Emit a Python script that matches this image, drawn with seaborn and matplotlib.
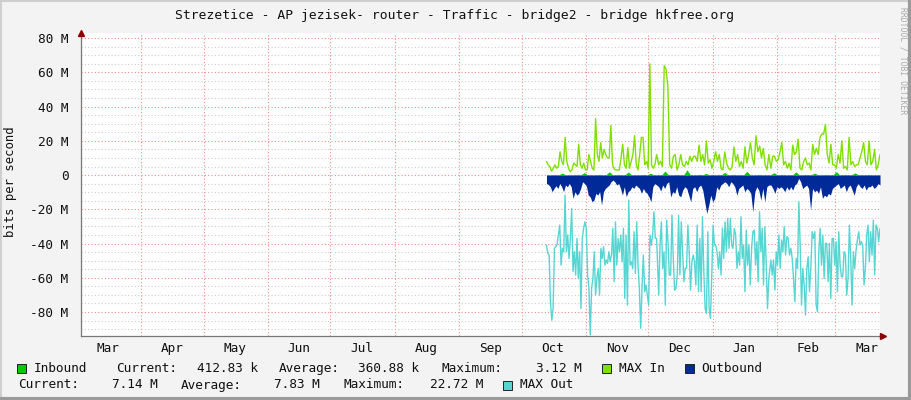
import matplotlib
matplotlib.use('Agg')
import matplotlib.pyplot as plt
import matplotlib.dates as mdates
from matplotlib.ticker import MultipleLocator, NullFormatter, FuncFormatter
from matplotlib.patches import Rectangle
import pandas as pd
import seaborn as sns

# RRDtool traffic graph, values in Mbit/s
title = 'Strezetice - AP jezisek- router - Traffic - bridge2 - bridge hkfree.org'
view_start, view_end = '2014-03-03', '2015-03-22 12:00'
# the readings were taken in three time blocks
blocks = [('2014-10-13', '2014-12-05'), ('2014-12-06', '2015-01-28'), ('2015-01-29', '2015-03-22 12:00')]

max_in = [
    [8, 6, 5, 2.3, 4, 6, 4, 5, 13.6, 8, 6, 22, 8, 4, 2, 3, 7, 6, 5, 18, 6, 4, 7, 3, 3, 12, 8, 4, 3, 33,
     12, 8, 19, 10, 15, 12, 10, 10, 29, 6, 3.5, 3, 3, 3, 10, 18, 6, 4, 16, 4, 8, 12, 23, 6, 3, 12, 22, 22,
     6, 8, 4, 65, 6, 4, 6, 12],
    [6, 8, 5, 64, 62, 52, 6, 4, 11, 12, 3, 6, 12, 6, 5, 8, 6, 11, 8, 11, 11, 8, 17.5, 8, 12, 6, 20, 7, 9,
     4, 8, 13.6, 8, 12, 4, 3, 13.6, 7, 4, 3, 5, 16.5, 8, 12, 5, 8, 4, 16.5, 7, 12, 19, 10, 6, 23, 13.6, 17,
     10, 15.6, 6, 3, 12],
    [4, 11, 11, 8, 9, 13.6, 19, 6, 8, 4, 7, 3, 17.5, 12, 13.6, 21, 4, 3, 8, 10, 6, 7, 3, 18, 12, 15.6, 12,
     22, 24, 24, 29.6, 12, 7, 18, 6, 6, 4, 12, 7, 20, 4, 5, 3, 22, 6, 8, 5, 6, 6, 10, 13.6, 19, 8, 6, 20,
     6, 8, 15, 3, 6, 12],
]

outbound = [
    [-4.9, -5.5, -6.8, -9.7, -7.8, -6.2, -7.8, -4.9, -6.8, -9.7, -5.8, -6.8, -4.9, -6.8, -13.6, -9.7,
     -11.7, -10.7, -7.8, -3.9, -4.9, -6.2, -11.7, -12.7, -15.6, -14.6, -10.7, -11.7, -9.7, -17.5, -9.7,
     -7.8, -6.8, -5.8, -3.9, -2.9, -3.9, -5.8, -4.9, -7.8, -11.7, -6.8, -12.7, -9.7, -8.8, -6.8, -7.8,
     -5.8, -6.8, -7.8, -10.7, -7.8, -9.7, -10.7, -12.7, -15.6, -6.8, -4.9, -5.8],
    [-6.8, -9.3, -5.8, -7.8, -4.9, -3.9, -12.7, -9.7, -10.7, -6.8, -11.7, -12.7, -8.8, -6.8, -7.8,
     -11.7, -15.6, -7.8, -6.8, -9.7, -6.8, -5.8, -8.8, -15.6, -22.4, -17.5, -11.7, -15.6, -13.6, -6.8,
     -8.8, -5.8, -4.9, -3.9, -4.9, -6.8, -3.9, -4.9, -6.8, -11.7, -7.8, -6.8, -5.8, -9.7, -7.8, -8.8,
     -10.7, -21.4, -9.7, -6.8, -8.8, -14.6, -7.8, -15.6, -6.8, -5.8],
    [-5.8, -7.8, -10.7, -6.8, -7.8, -6.8, -7.8, -9.7, -6.8, -8.8, -6.8, -8.8, -5.8, -4.9, -1.9, -3.9,
     -7.8, -6.8, -5.8, -7.8, -20.4, -7.8, -9.7, -8.8, -10.7, -6.8, -13.6, -11.7, -12.7, -10.7, -11.7,
     -7.8, -6.8, -5.8, -4.9, -7.8, -6.8, -5.8, -9.7, -6.8, -5.8, -8.8, -11.7, -6.8, -4.9, -6.8, -7.8,
     -5.8, -8.8, -6.8, -6.8, -5.8, -7.8, -6.8, -4.9, -5.8],
]

max_out = [
    [-40.9, -45.7, -46.7, -74, -84.7, -77.9, -42.8, -41.8, -40.5, -35, -29.2, -52.6, -42.8, -44.8, -11.7,
     -44.8, -35, -48.7, -37, -19.5, -56.4, -44.8, -58.4, -37, -60.3, -44.8, -77.9, -37, -31.1, -27.3,
     -31.1, -58.4, -66.2, -93.4, -66.2, -60.3, -44.8, -70.1, -60.3, -54.5, -70.1, -42.8, -48.7, -41.8,
     -52.6, -49.6, -51.6, -44.8, -50.6, -46.7, -31.1, -62.3, -27.3, -52.6, -37, -44.8, -35, -50.6, -31.1,
     -72, -35, -75.9, -14.6, -52.6, -50.6, -54.5, -33.1, -57.4, -27.3, -52.6, -66.2, -89.5, -66.2, -46.7,
     -68.1, -64.2, -70.1, -75.9, -35, -40.9, -35, -21.4, -37, -37],
    [-70.1, -40.9, -27.3, -54.5, -44.8, -75.9, -26.3, -38.9, -58.4, -58.4, -23.4, -48.7, -67.2, -66.2,
     -58.4, -23.4, -58.4, -27.3, -44.8, -62.3, -54.5, -54.5, -29.2, -44.8, -67.2, -50.6, -46.7, -50.6,
     -64.2, -29.2, -68.1, -37, -68.1, -24.3, -56.4, -77.9, -80.8, -33.1, -77.9, -83.7, -58.4, -29.2,
     -40.9, -40.9, -44.8, -54.5, -44.8, -58.4, -31.1, -48.7, -27.3, -44.8, -25.3, -42.8, -25.3, -40.9,
     -42.8, -31.1, -35, -54.5, -44.8, -52.6, -24.3, -48.7, -40.9, -68.1, -32.1, -52.6, -40.9, -64.2,
     -42.8, -33.1, -32.1, -52.6, -38.9, -62.3, -21.4, -44.8, -31.1, -64.2, -30.2, -50.6, -77.9, -60.3],
    [-49.6, -58.4, -49.6, -67.2, -44.8, -52.6, -35, -54.5, -37.9, -44.8, -30.2, -46.7, -36, -37, -46.7,
     -42.8, -48.7, -60.3, -74, -48.7, -54.5, -15.6, -40.9, -75.9, -54.5, -64.2, -81.8, -54.5, -47.7,
     -68.1, -54.5, -33.1, -37, -33.1, -75.9, -79.8, -44.8, -31.1, -52.6, -35, -60.3, -39.9, -39.9, -62.3,
     -39.9, -72, -37, -37, -52.6, -38.9, -68.1, -33.1, -52.6, -59.3, -59.3, -44.8, -46.7, -70.1, -60.3,
     -29.2, -48.7, -75.9, -44.8, -54.5, -43.8, -37.9, -33.1, -40.9, -38.9, -40.9, -64.2, -54.5, -35,
     -29.2, -50.6, -33.1, -46.7, -26.3, -58.4, -29.2, -31.1, -38.9, -31.1],
]

inbound = [
    [0.3, 0.2, 0.3, 0.3, 0.2, 1.2, 0.2, 0.3, 0.2, 0.3, 0.4, 0.2, 1.5, 0.2, 0.3, 0.2, 0.3, 0.4, 0.2, 0.3,
     2.0, 0.2, 0.3, 0.4, 0.2, 0.3, 1.8, 0.2, 0.3, 0.2, 0.3, 0.4, 0.2, 1.1, 0.3, 0.2],
    [0.3, 0.2, 2.4, 0.3, 0.2, 0.3, 0.4, 0.2, 0.3, 3.1, 0.3, 0.2, 0.3, 0.4, 0.2, 1.0, 0.2, 0.3, 0.2, 0.4,
     0.3, 1.6, 0.2, 0.3, 0.4, 0.2, 0.3, 0.2, 2.2, 0.3, 0.2, 0.3, 0.4, 0.2, 0.3, 0.2],
    [0.3, 1.4, 0.2, 0.3, 0.4, 0.2, 0.3, 0.2, 1.9, 0.3, 0.2, 0.4, 0.3, 0.2, 1.2, 0.3, 0.2, 0.3, 0.4, 0.2,
     0.3, 2.0, 0.2, 0.3, 0.4, 0.2, 0.3, 1.3, 0.2, 0.3, 0.2, 0.4, 0.3, 0.2, 0.3, 0.3],
]

legend_rows = [
    [('sq', 17, '#00CC00'), ('Inbound', 34), ('Current:', 116), ('412.83 k', 197), ('Average:', 279),
     ('360.88 k', 358), ('Maximum:', 441), ('3.12 M', 536), ('sq', 602, '#7FE000'), ('MAX In', 619),
     ('sq', 685, '#002A97'), ('Outbound', 701)],
    [('Current:', 18), ('7.14 M', 112), ('Average:', 181), ('7.83 M', 274), ('Maximum:', 343),
     ('22.72 M', 430), ('sq', 503, '#55D6D3'), ('MAX Out', 520)],
]


def frame(parts):
    out = []
    for (t0, t1), vals in zip(blocks, parts):
        out.append(pd.DataFrame({'time': pd.date_range(t0, t1, periods=len(vals)), 'value': vals}))
    return pd.concat(out, ignore_index=True)


df_in = frame(inbound)
df_max_in = frame(max_in)
df_out = frame(outbound)
df_max_out = frame(max_out)

sns.set_style('white')
plt.rcParams['font.family'] = ['DejaVu Sans Mono']

W, H = 911, 400
fig = plt.figure(figsize=(W / 100, H / 100), dpi=100, facecolor='#F3F3F3')
ax = fig.add_axes([81 / W, 1 - 336 / H, (880 - 81) / W, (336 - 33) / H])
ax.set_facecolor('white')

# grid first
ax.set_axisbelow(True)
ax.yaxis.set_major_locator(MultipleLocator(20))
ax.yaxis.set_minor_locator(MultipleLocator(5))
ax.xaxis.set_major_locator(mdates.MonthLocator())
ax.xaxis.set_minor_locator(mdates.MonthLocator(bymonthday=16))
ax.xaxis.set_major_formatter(NullFormatter())
ax.xaxis.set_minor_formatter(mdates.DateFormatter('%b'))
ax.grid(which='minor', axis='y', color='#cccccc', linestyle=(0, (1, 2)), lw=0.8)
ax.grid(which='major', axis='both', color='#EE8E8E', linestyle=(0, (1, 2)), lw=0.8)

# data
ax.fill_between(df_in['time'], 0, df_in['value'], color='#00CC00', lw=0, zorder=2)
sns.lineplot(data=df_max_in, x='time', y='value', color='#7FE000', lw=1.0, estimator=None, ax=ax, zorder=3)
ax.fill_between(df_out['time'], 0, df_out['value'], color='#002A97', lw=0, zorder=4)
sns.lineplot(data=df_max_out, x='time', y='value', color='#55D6D3', lw=1.0, estimator=None, ax=ax, zorder=5)

ax.set_xlim(pd.Timestamp(view_start), pd.Timestamp(view_end))
ax.set_ylim(-94, 83)
ax.yaxis.set_major_formatter(FuncFormatter(lambda v, p: '0' if v == 0 else '%d M' % v))
ax.set_xlabel('')
ax.set_ylabel('')

for s in ['top', 'right']:
    ax.spines[s].set_visible(False)
for s in ['left', 'bottom']:
    ax.spines[s].set_color('#777777')
    ax.spines[s].set_linewidth(0.9)
ax.tick_params(axis='y', which='major', length=3, color='#777777', labelsize=9.2, pad=6, labelcolor='#111111')
ax.tick_params(axis='y', which='minor', length=0)
ax.tick_params(axis='x', which='major', length=3, color='#777777')
ax.tick_params(axis='x', which='minor', length=0, labelsize=9.2, pad=4, labelcolor='#111111')

# axis arrows
ax.plot([0], [1.0], marker='^', ms=4, color='#8B0000', transform=ax.transAxes, clip_on=False, zorder=6)
ax.plot([1.004], [0], marker='>', ms=4, color='#8B0000', transform=ax.transAxes, clip_on=False, zorder=6)

# overlay in pixel coordinates for title, legend, border
ov = fig.add_axes([0, 0, 1, 1], facecolor='none')
ov.set_xlim(0, W)
ov.set_ylim(H, 0)
ov.axis('off')
ov.text(455, 16, title, ha='center', va='center', fontsize=9.4, color='#111111')
ov.text(11, 182, 'bits per second', rotation=90, ha='center', va='center', fontsize=8.8, color='#111111')
ov.text(903, 61, 'RRDTOOL / TOBI OETIKER', rotation=270, ha='center', va='center', fontsize=5.8,
        color='#aaaaaa')
for row, y in zip(legend_rows, [368.5, 385]):
    for item in row:
        if item[0] == 'sq':
            ov.add_patch(Rectangle((item[1], y - 4.5), 9, 9, facecolor=item[2], edgecolor='#222222', lw=0.7))
        else:
            ov.text(item[1], y, item[0], ha='left', va='center', fontsize=9.2, color='#111111')
ov.plot([0.5, 0.5], [0, H], color='#cfcfcf', lw=1.5)
ov.plot([0, W], [0.5, 0.5], color='#cfcfcf', lw=1.5)
ov.plot([W - 1.5, W - 1.5], [0, H], color='#9a9a9a', lw=3)
ov.plot([0, W], [H - 1.5, H - 1.5], color='#9a9a9a', lw=3)

fig.savefig('out.png', dpi=100, facecolor=fig.get_facecolor())
